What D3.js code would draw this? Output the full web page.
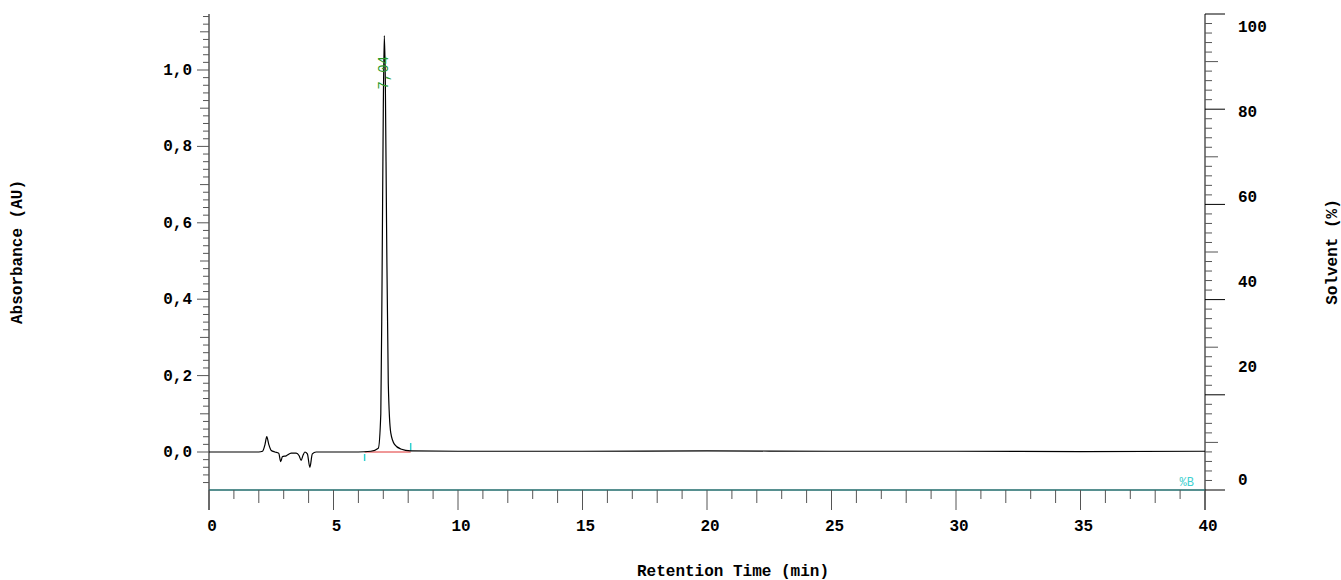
<!DOCTYPE html>
<html>
<head>
<meta charset="utf-8">
<title>Chromatogram</title>
<script src="https://cdn.jsdelivr.net/npm/d3@7"></script>
<style>
  body { margin: 0; background: #fff; }
  text { font-family: "Liberation Mono", monospace; font-weight: bold; font-size: 16px; }
</style>
</head>
<body>
<svg id="chart" width="1341" height="580"></svg>
<script>
// trace: retention time (min) / absorbance (AU)
var times = [0, 1, 2, 2.15, 2.25, 2.32, 2.4, 2.5, 2.65, 2.8, 2.88, 2.95, 3.1, 3.3, 3.5, 3.62, 3.7, 3.78, 3.85, 3.95, 4.05, 4.15, 4.3, 5, 6, 6.5, 6.8, 6.9, 6.95, 7.0, 7.04, 7.08, 7.13, 7.2, 7.3, 7.45, 7.7, 8.1, 10, 15, 20, 25, 30, 35, 40];
var absorb = [0, 0, 0, 0.002, 0.02, 0.04, 0.02, 0.004, 0.0, -0.003, -0.025, -0.012, -0.01, -0.003, -0.003, -0.01, -0.022, -0.008, 0.0, -0.005, -0.04, -0.005, 0, 0, 0, 0.002, 0.01, 0.1, 0.45, 0.9, 1.09, 0.98, 0.6, 0.18, 0.05, 0.02, 0.008, 0.003, 0.002, 0.002, 0.003, 0.002, 0.002, 0.001, 0.002];
var peakTimes = ["7,04"];
var peakAt = [7.04];
var peakTop = [1.09];
var baseStart = 6.25, baseEnd = 8.1;
var xTicks = [0, 5, 10, 15, 20, 25, 30, 35, 40];
var yTicks = [0, 0.2, 0.4, 0.6, 0.8, 1.0];
var y2Ticks = [0, 20, 40, 60, 80, 100];

var svg = d3.select("#chart");
var pLeft = 209, pRight = 1205, pTop = 14, pBottom = 490;

var x = d3.scaleLinear().domain([0, 40]).range([pLeft, pRight]);
var y = d3.scaleLinear().domain([0, 1]).range([452, 70]);
var y2 = d3.scaleLinear().domain([0, 100]).range([pBottom, pTop]);
var y2Label = d3.scaleLinear().domain([20, 80]).range([366, 111]);
var fmt = function(v) { return d3.format(".1f")(v).replace(".", ","); };

// left axis
svg.append("line").attr("x1", pLeft).attr("x2", pLeft).attr("y1", pTop).attr("y2", pBottom + 20).attr("stroke", "#000");
d3.range(-5, 59).forEach(function(r) {
  var yy = y(r * 0.02);
  if (yy < pTop || yy > pBottom) return;
  var len = r % 10 === 0 ? 12 : (r % 5 === 0 ? 9 : 6);
  svg.append("line").attr("x1", pLeft - len).attr("x2", pLeft).attr("y1", yy).attr("y2", yy).attr("stroke", "#555");
});
yTicks.forEach(function(v) {
  svg.append("text").attr("x", 192).attr("y", y(v) + 5).attr("text-anchor", "end").text(fmt(v));
});

// right axis
svg.append("line").attr("x1", pRight).attr("x2", pRight).attr("y1", pTop).attr("y2", pBottom + 20).attr("stroke", "#000");
d3.range(0, 101, 2).forEach(function(v) {
  var yy = y2(v);
  var len = v % 20 === 0 ? 20 : (v % 10 === 0 ? 13 : 7);
  svg.append("line").attr("x1", pRight).attr("x2", pRight + len).attr("y1", yy).attr("y2", yy).attr("stroke", v % 20 === 0 ? "#000" : "#555");
});
y2Ticks.forEach(function(v) {
  var yy = v === 0 ? 485 : y2Label(v) + 6;
  svg.append("text").attr("x", 1238).attr("y", yy).text(v);
});

// bottom axis
svg.append("line").attr("x1", pLeft).attr("x2", pRight).attr("y1", pBottom).attr("y2", pBottom).attr("stroke", "#1f6b6b").attr("stroke-width", 1.3);
d3.range(0, 41, 1).forEach(function(v) {
  var len = v % 5 === 0 ? 20 : (v % 2 === 0 ? 13 : 9);
  svg.append("line").attr("x1", x(v)).attr("x2", x(v)).attr("y1", pBottom).attr("y2", pBottom + len).attr("stroke", "#555");
});
xTicks.forEach(function(v) {
  svg.append("text").attr("x", x(v) + 3).attr("y", 531).attr("text-anchor", "middle").text(v);
});

// titles
svg.append("text").attr("x", 733).attr("y", 576).attr("text-anchor", "middle").text("Retention Time (min)");
svg.append("text").attr("transform", "translate(22,252) rotate(-90)").attr("text-anchor", "middle").text("Absorbance (AU)");
svg.append("text").attr("transform", "translate(1337,252) rotate(-90)").attr("text-anchor", "middle").text("Solvent (%)");

// integration baseline + markers
svg.append("line").attr("x1", x(baseStart)).attr("x2", x(baseEnd)).attr("y1", y(0)).attr("y2", y(0)).attr("stroke", "#e03030");
svg.append("line").attr("x1", x(baseStart)).attr("x2", x(baseStart)).attr("y1", y(0) + 2).attr("y2", y(0) + 9).attr("stroke", "#30d0d0").attr("stroke-width", 1.5);
svg.append("line").attr("x1", x(baseEnd)).attr("x2", x(baseEnd)).attr("y1", y(0) - 9).attr("y2", y(0) - 1).attr("stroke", "#30d0d0").attr("stroke-width", 1.5);

// trace
var line = d3.line().x(function(d, i) { return x(times[i]); }).y(function(d) { return y(d); }).curve(d3.curveMonotoneX);
svg.append("path").attr("d", line(absorb)).attr("fill", "none").attr("stroke", "#000").attr("stroke-width", 1.2);

// peak label
peakAt.forEach(function(t, i) {
  svg.append("text").attr("transform", "translate(" + (x(t) + 4) + "," + (y(peakTop[i]) + 54) + ") rotate(-90)")
    .attr("fill", "#2a9a2a").style("font-weight", "normal").style("font-size", "14px").text(peakTimes[i]);
});

// %B label
svg.append("text").attr("x", 1194).attr("y", 486).attr("text-anchor", "end").attr("fill", "#40d0d0")
  .style("font-weight", "normal").style("font-size", "12px").text("%B");
</script>
</body>
</html>
